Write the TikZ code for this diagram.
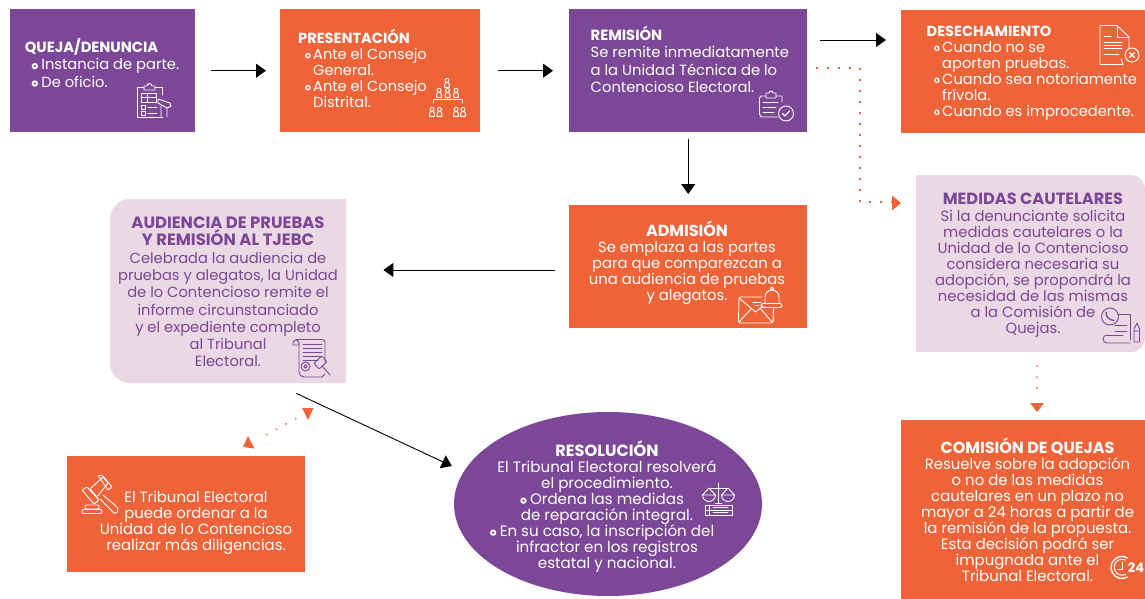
\documentclass[tikz,border=0pt]{standalone}
\usepackage{fontspec}
\setmainfont{Poppins}
\usetikzlibrary{arrows.meta,calc,shapes.geometric}
\definecolor{pur}{HTML}{7B4796}
\definecolor{ora}{HTML}{EE6338}
\definecolor{lil}{HTML}{EAD8E5}
\newcommand{\tbul}[1]{\llap{\tikz[baseline=0pt]\draw[white,line width=#1] (0,3.8pt) circle (2.1pt);\hspace{2.6pt}}}
\newcommand{\pbul}{\llap{\tikz[baseline=0pt]\draw[white,line width=1.8pt] (0,3.8pt) circle (2.2pt);\hspace{3.5pt}}}
\newcommand{\ttl}[2]{{\fontsize{#1}{16}\selectfont\bfseries #2}}
\newcommand{\persona}[2]{\draw (#1,#2-2.6) circle (2); \draw (#1-2.4,#2+4.4) -- (#1-2.4,#2+1.8) arc (180:360:2.4) -- (#1+2.4,#2+4.4) -- cycle;}
\tikzset{
  x=1pt,y=-1pt,
  box/.style={draw=none,minimum width=#1,inner sep=0pt,anchor=north west},
  tl/.style={text=white,font=\fontsize{14.8}{16}\selectfont,inner sep=0pt,align=center,anchor=center},
  tp/.style={text=pur,font=\fontsize{14.7}{17.3}\selectfont,inner sep=0pt,align=center,anchor=center},
  blk/.style={black,line width=0.9pt,-{Triangle[length=10pt,width=14pt]}},
  dots/.style={ora,line width=1.4pt,dash pattern=on 1.4pt off 9.6pt},
  ico/.style={white,line width=0.9pt,line cap=round,line join=round},
  icp/.style={pur,line width=0.9pt,line cap=round,line join=round},
}
\begin{document}
\begin{tikzpicture}
\useasboundingbox (0,0) rectangle (1145,599);
% boxes
\node[box=185pt,minimum height=123pt,fill=pur] (queja) at (10,9) {};
\node[box=200pt,minimum height=123pt,fill=ora] (pres) at (280,9) {};
\node[box=238pt,minimum height=123pt,fill=pur] (rem) at (569,9) {};
\node[box=244pt,minimum height=123pt,fill=ora] (des) at (901,10) {};
\node[box=238pt,minimum height=123pt,fill=ora] (adm) at (569,205) {};
\node[box=244pt,minimum height=179pt,fill=ora] (com) at (901,420) {};
\node[box=238pt,minimum height=116pt,fill=ora] (gav) at (67,456) {};
\node[ellipse,draw=none,fill=pur,minimum width=308pt,minimum height=184pt,inner sep=0pt] (res) at (608,504) {};
\fill[lil] (130,199) -- (346,199) -- (346,383) -- (130,383) arc (90:180:20) -- (110,219) arc (180:270:20) -- cycle;
\node[box=236pt,minimum height=184pt] (aud) at (110,199) {};
\fill[lil] (916,175) -- (1131,175) arc (-90:0:14) -- (1145,338) arc (0:90:14) -- (916,352) -- cycle;
\node[box=229pt,minimum height=177pt] (med) at (916,175) {};
% texts
\node[tl,anchor=center,align=left,font=\fontsize{14.7}{17.4}\selectfont] (tqueja) at (102,63) {\textbf{QUEJA/DENUNCIA}\\\hspace*{16.5pt}\pbul Instancia de parte.\\\hspace*{16.5pt}\pbul De oficio.};
\node[tl,align=left,anchor=north west,font=\fontsize{14.6}{16}\selectfont] (tpres) at (298,29) {\ttl{14.6}{PRESENTACIÓN}\\\hspace*{15pt}\tbul{1.3pt}Ante el Consejo\\\hspace*{15pt}General.\\\hspace*{15pt}\tbul{1.3pt}Ante el Consejo\\\hspace*{15pt}Distrital.};
\node[tl,align=left,anchor=north west,font=\fontsize{14.75}{17.4}\selectfont] (trem) at (590.5,26) {\textbf{REMISIÓN}\\Se remite inmediatamente\\a la Unidad Técnica de lo\\Contencioso Electoral.};
\node[tl,align=left,anchor=north west,font=\fontsize{14.7}{16}\selectfont] (tdes) at (926.5,25.5) {\ttl{14.6}{DESECHAMIENTO}\\\hspace*{15.5pt}\tbul{1.3pt}Cuando no se\\\hspace*{15.5pt}aporten pruebas.\\\hspace*{15.5pt}\tbul{1.3pt}Cuando sea notoriamente\\\hspace*{15.5pt}frívola.\\\hspace*{15.5pt}\tbul{1.3pt}Cuando es improcedente.};
\node[tl] (tadm) at (687,262.5) {\ttl{16}{ADMISIÓN}\\Se emplaza a las partes\\para que comparezcan a\\una audiencia de pruebas\\y alegatos.};
\node[tp] (taud) at (228,292) {\ttl{16.4}{AUDIENCIA DE PRUEBAS}\\\ttl{16.4}{Y REMISIÓN AL TJEBC}\\Celebrada la audiencia de\\pruebas y alegatos, la Unidad\\de lo Contencioso remite el\\informe circunstanciado\\y el expediente completo\\al Tribunal\\Electoral.};
\node[tp,font=\fontsize{14.8}{16}\selectfont] (tmed) at (1033,265.5) {\ttl{16.2}{MEDIDAS CAUTELARES}\\[1.2pt]Si la denunciante solicita\\medidas cautelares o la\\Unidad de lo Contencioso\\considera necesaria su\\adopción, se propondrá la\\necesidad de las mismas\\a la Comisión de\\Quejas.};
\node[tl,font=\fontsize{14.9}{16}\selectfont] (tcom) at (1027.5,510) {\ttl{16}{COMISIÓN DE QUEJAS}\\Resuelve sobre la adopción\\o no de las medidas\\cautelares en un plazo no\\mayor a 24 horas a partir de\\la remisión de la propuesta.\\Esta decisión podrá ser\\impugnada ante el\\Tribunal Electoral.};
\node[tl,font=\fontsize{14.9}{16}\selectfont] (tgav) at (196,523) {El Tribunal Electoral\\puede ordenar a la\\Unidad de lo Contencioso\\realizar más diligencias.};
\node[tl,font=\fontsize{15.1}{16}\selectfont] (tres) at (607,506.5) {\ttl{16.2}{RESOLUCIÓN}\\El Tribunal Electoral resolverá\\el procedimiento.\\\pbul Ordena las medidas\\de reparación integral.\\\pbul En su caso, la inscripción del\\infractor en los registros\\estatal y nacional.};
% connectors
\draw[blk,shorten <=16pt,shorten >=14pt] (queja.east) -- (pres.west);
\draw[blk,shorten <=18pt,shorten >=16pt] (pres.east) -- (rem.west);
\draw[blk] ([shift={(13,31)}]rem.north east) -- ([shift={(-15,30)}]des.north west);
\draw[blk,shorten <=7pt,shorten >=11pt] (rem.south) -- (adm.north);
\draw[blk] ([shift={(-14,65)}]adm.north west) -- ([shift={(37,71)}]aud.north east);
\draw[blk] ([shift={(-50,10)}]aud.south east) -- ([shift={(-2,-38)}]res.west);
\draw[dots] ([shift={(9,59)}]rem.north east) -| ([shift={(-56,27)}]med.north west) -- ([shift={(-24,27)}]med.north west);
\fill[ora] (892,195.5) -- (901,203) -- (892,210.5) -- cycle;
\draw[dots] ([shift={(6.5,13)}]med.south) -- ([shift={(136,-22)}]com.north west);
\fill[ora] (1030,403) -- (1044,403) -- (1037,412) -- cycle;
\draw[dots] ([shift={(-50,35)}]aud.south east) -- ([shift={(-47,-17)}]gav.north east);
\fill[ora] (302,408) -- (313.5,408) -- (308,420) -- cycle;
\fill[ora] (248,436) -- (254.5,448.5) -- (243,447) -- cycle;
\begin{scope}[ico]
% icon: clipboard + pen
\draw (162,95) -- (162,87.5) -- (155,87.5) (144,87.5) -- (137.5,87.5) -- (137.5,117) -- (163,117);
\draw (144,90) -- (144,86) -- (147,86) arc (180:360:2.5) -- (155,86) -- (155,90) -- cycle;
\draw (141,93) rectangle (156,102) (141,97.5) -- (156,97.5) (147,93) -- (147,102);
\draw (141,105) rectangle (145,109) (141,111) rectangle (145,115) (148,107) -- (157,107) (148,113) -- (157,113);
\draw (158,99) -- (170,103) -- (171,106) -- (167,108) -- (158,103) -- cycle (161,106) -- (161,117) (167,108) -- (167,117);
% icon: org tree
\persona{447}{83} \persona{439}{93} \persona{447.5}{93} \persona{456}{93}
\draw (433,103) -- (433,99.5) -- (462,99.5) -- (462,103) (447.5,97) -- (447.5,99.5);
\persona{432}{112} \persona{439.5}{112} \persona{456}{112} \persona{463}{112}
% icon: clipboard check
\draw (782,102) -- (782,96) -- (776,96) (766,96) -- (761,96) -- (759.5,98) -- (759.5,114) -- (761,117) -- (778,117);
\draw (766,98) -- (766,93) -- (769,93) arc (180:360:2) -- (776,93) -- (776,98) -- cycle;
\draw (763,102) -- (778,102) (763,107) -- (776,107) (763,112) -- (774,112);
\draw (786,113.5) circle (7.5);
\draw[line width=1.1pt] (782.5,113.5) -- (785,116) -- (789.5,111);
% icon: doc x
\draw (1121,59) -- (1123,64.5) -- (1100,64.5) -- (1100,25.5) -- (1117,25.5) -- (1129,37) -- (1129,48);
\draw (1117,25.5) -- (1117,37) -- (1129,37);
\draw (1104,36) -- (1111,36) (1104,42) -- (1122,42) (1104,48) -- (1122,48) (1104,54) -- (1119,54) (1104,45) -- (1122,45);
\draw (1132,55) circle (7);
\draw[line width=1.1pt] (1129.5,52.5) -- (1134.5,57.5) (1134.5,52.5) -- (1129.5,57.5);
% icon: envelope + bell
\draw[rounded corners=1.5pt] (762,297) -- (739,297) -- (738.5,323) -- (773,323) -- (773.5,307);
\draw (739,298) -- (755.5,312) -- (763,306) (739,322) -- (751,309) (772,322) -- (760,308);
\draw (753,302) -- (761,302) (755,305) -- (759,305);
\draw (765,303) -- (765,297) arc (180:360:7) -- (779,303);
\draw[rounded corners=1.5pt] (761,303.5) rectangle (782,307.5);
\draw (772,288.5) circle (1.6);
% icon: gavel on orange
\draw[rounded corners=1pt] (90,489) -- (103,477) -- (108,483) -- (97,497) -- cycle;
\draw[rounded corners=1pt] (82,490) -- (87,487) -- (99,500) -- (94,504) -- cycle (98,475) -- (103,476) -- (112,487) -- (108,490) -- cycle;
\draw[rounded corners=2pt] (103,495) -- (117,507) -- (119,510) -- (115,514) -- (113,512) -- (100,499);
\draw[rounded corners=1pt] (85,505) rectangle (99,509) (82,509.5) rectangle (102,513.5);
% icon: scales
\draw (718.5,483) -- (718.5,503) (709,488) -- (728,488) (715,503) -- (722,503);
\draw (709,488) -- (702.5,495) (709,488) -- (715.5,495) (702.5,495) -- (715.5,495) arc (0:180:6.5) (728,488) -- (721.5,495) (728,488) -- (734.5,495) (721.5,495) -- (734.5,495) arc (0:180:6.5);
\draw (705,505) rectangle (732,510) (705,510) rectangle (732,515) (709,505) -- (709,515) (713,507.5) -- (728,507.5) (713,512.5) -- (728,512.5);
% icon: 24 clock
\draw[line width=1.4pt] (1127.5,577) arc (60:300:11);
\draw[line width=1pt] (1125.5,574.5) arc (65:295:8);
\draw (1122,562) -- (1122,569) -- (1117,569);
\end{scope}
\node[text=white,inner sep=0pt,font=\fontsize{13}{13}\selectfont\bfseries] (n24) at (1136,568) {24};
\begin{scope}[icp]
% scroll + gavel
\draw (293,343) arc (180:360:3) -- (299,345) -- (293,345) -- cycle (296,339.5) -- (322,339.5) arc (-90:0:3) -- (325,363);
\draw (299,343) -- (299,372) arc (180:90:5) -- (322,377);
\draw (322,377) -- (325,374);
\draw (303,344) -- (322,344) (303,348) -- (322,348) (303,352) -- (322,352) (303,356) -- (322,356) (303,360) -- (318,360);
\draw (305.5,366.5) circle (4.5) (305.5,366.5) circle (1.8);
\draw[rounded corners=1pt] (314,363) -- (322,356) -- (327,362) -- (319,369) -- cycle;
\draw (322,366) -- (330,375);
% phone + doc
\draw (1110,316.5) circle (8.5);
\draw[line width=1.3pt] (1106,312) .. controls (1106,317) and (1109,320) .. (1114,320.5);
\draw (1118,314) -- (1130,314) -- (1130,340) (1115,325) -- (1127,325) (1115,331) -- (1127,331);
\draw (1107,335) -- (1123,335);
\draw (1107,335) arc (270:90:4) -- (1130,343);
\draw (1134,329) -- (1137,323) -- (1139.5,329) -- (1139.5,342) -- (1134,342) -- cycle (1134,331) -- (1139.5,331);
\end{scope}
\end{tikzpicture}
\end{document}
